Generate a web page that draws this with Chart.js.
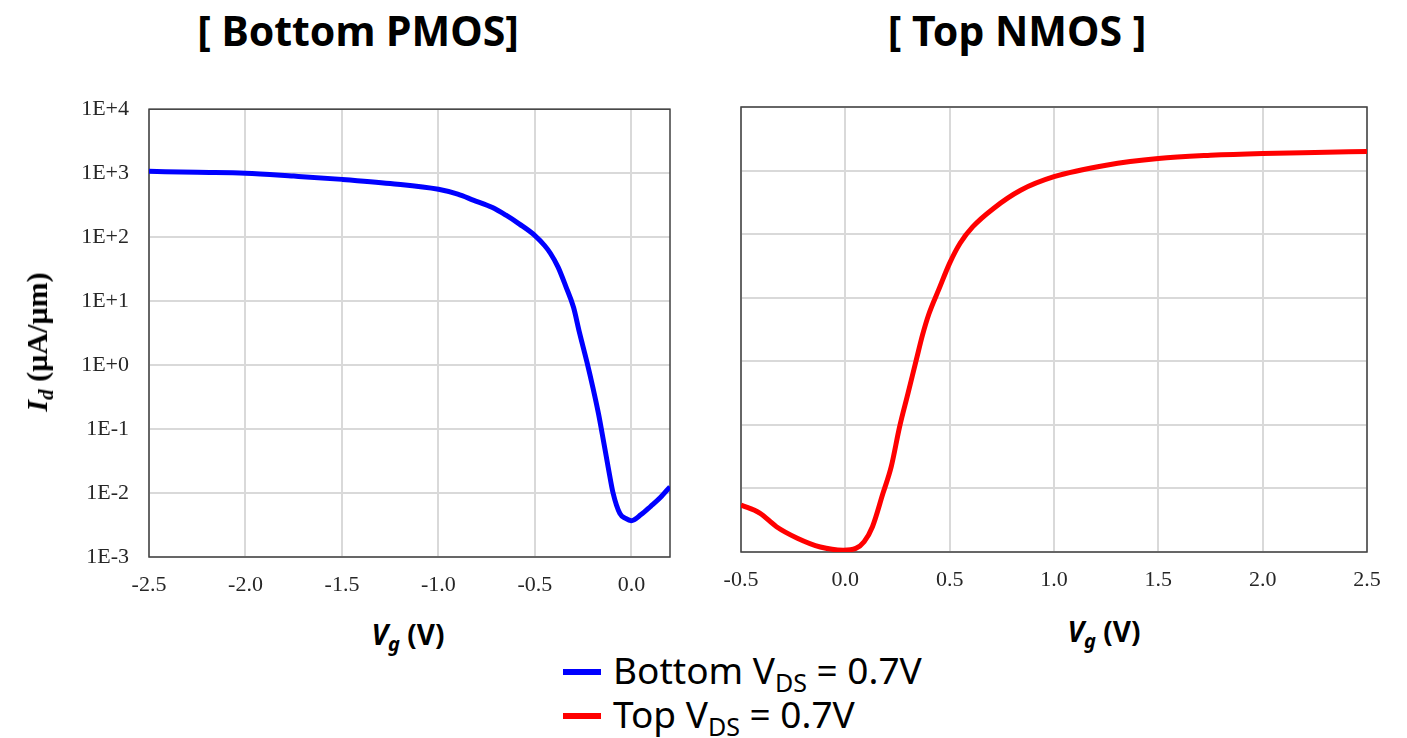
<!DOCTYPE html>
<html>
<head>
<meta charset="utf-8">
<script src="https://cdn.jsdelivr.net/npm/chart.js@4"></script>
<style>
  body { margin: 0; width: 1407px; height: 738px; background: #fff; position: relative; overflow: hidden; font-family: "Noto Sans", sans-serif; color: #000; }
  canvas { position: absolute; }
  sub { line-height: 0; }
  .title { position: absolute; top: 0; font-weight: bold; font-size: 41px; white-space: nowrap; transform: translateX(-50%); line-height: 60px; }
  .xlab { position: absolute; font-weight: bold; font-size: 28px; white-space: nowrap; transform: translateX(-50%); }
  .xlab i, .ylab i { font-style: italic; }
  .xlab sub { font-size: 20px; vertical-align: -6px; }
  .ylab { position: absolute; left: 37px; top: 342px; font-family: "Liberation Serif", serif; font-weight: bold; font-size: 30px; white-space: nowrap; transform: translate(-50%, -50%) rotate(-90deg); }
  .ylab sub { font-size: 21px; vertical-align: -6px; }
  .legend { position: absolute; left: 563px; top: 648px; font-size: 37px; line-height: 44px; }
  .legend div { white-space: nowrap; height: 44px; }
  .legend span.sw { display: inline-block; width: 38px; height: 6px; margin-right: 12px; vertical-align: middle; position: relative; top: -2px; }
  .legend sub { font-size: 25px; vertical-align: -8px; }
</style>
</head>
<body>
<div class="title" style="left:358px">[ Bottom PMOS]</div>
<div class="title" style="left:1017px">[ Top NMOS ]</div>

<canvas id="pmos" width="690" height="531" style="left:0;top:76px"></canvas>
<canvas id="nmos" width="707" height="507" style="left:700px;top:95px"></canvas>

<div class="ylab"><i>I<sub>d</sub></i> (µA/µm)</div>
<div class="xlab" style="left:408px;top:615px"><i>V<sub>g</sub></i> (V)</div>
<div class="xlab" style="left:1104px;top:612px"><i>V<sub>g</sub></i> (V)</div>

<div class="legend">
  <div><span class="sw" style="background:#0000ff"></span>Bottom V<sub>DS</sub> = 0.7V</div>
  <div><span class="sw" style="background:#ff0000"></span>Top V<sub>DS</sub> = 0.7V</div>
</div>

<script>
// bottom PMOS, Vds = 0.7 V
const pmosVg = [-2.5, -2.25, -2.0, -1.75, -1.5, -1.25, -1.0, -0.9, -0.82, -0.72, -0.65, -0.58, -0.5, -0.45, -0.42, -0.38, -0.34,
  -0.3, -0.27, -0.23, -0.2, -0.17, -0.145, -0.12, -0.095, -0.06, -0.03, 0.0, 0.05, 0.1, 0.15, 0.2];
const pmosId = [1070, 1030, 1000, 900, 800, 690, 560, 470, 380, 290, 220, 160, 106, 74, 56, 34, 17,
  8, 3.3, 1.1, 0.45, 0.17, 0.066, 0.025, 0.01, 0.0048, 0.004, 0.0037, 0.0046, 0.0062, 0.0085, 0.0125];
const pmosVgTicks = [-2.5, -2.0, -1.5, -1.0, -0.5, 0.0];

// top NMOS, Vds = 0.7 V
const nmosVg = [-0.5, -0.41, -0.33, -0.23, -0.12, -0.01, 0.05, 0.09, 0.13, 0.18, 0.22, 0.26, 0.3, 0.34, 0.37,
  0.4, 0.45, 0.5, 0.55, 0.61, 0.71, 0.84, 1.0, 1.25, 1.5, 1.75, 2.0, 2.25, 2.5];
const nmosId = [0.0055, 0.0041, 0.0025, 0.00165, 0.0012, 0.00107, 0.00114, 0.00145, 0.0025, 0.0083, 0.022, 0.093, 0.31, 1.05, 2.6,
  5.5, 14, 35, 72, 130, 254, 490, 800, 1215, 1550, 1740, 1860, 1930, 1990];
const nmosVgTicks = [-0.5, 0.0, 0.5, 1.0, 1.5, 2.0, 2.5];

const idTicks = [1e-3, 1e-2, 1e-1, 1e0, 1e1, 1e2, 1e3, 1e4];

const gridColor = '#d9d9d9';
const tickFont = { family: '"Liberation Serif", serif', size: 22 };

const frame = {
  id: 'frame',
  beforeDatasetsDraw(chart) {
    const { ctx, chartArea: a } = chart;
    ctx.save();
    ctx.strokeStyle = '#404040';
    ctx.lineWidth = 1.5;
    ctx.strokeRect(a.left, a.top, a.right - a.left, a.bottom - a.top);
    ctx.restore();
  }
};

function expLabel(v) {
  const e = Math.round(Math.log10(v));
  return '1E' + (e < 0 ? '-' : '+') + Math.abs(e);
}

function drawIdVg({ id, xs, ys, xTicks, color, yWidth, showY, padTop, padRight }) {
  new Chart(document.getElementById(id), {
    type: 'line',
    data: {
      datasets: [{
        data: xs.map((x, i) => ({ x, y: ys[i] })),
        borderColor: color,
        borderWidth: 5,
        pointRadius: 0,
        cubicInterpolationMode: 'monotone',
        fill: false,
      }],
    },
    options: {
      responsive: false,
      animation: false,
      layout: { padding: { top: padTop, right: padRight, left: 0, bottom: 0 } },
      plugins: { legend: { display: false }, tooltip: { enabled: false } },
      scales: {
        x: {
          type: 'linear',
          min: xs[0],
          max: xs[xs.length - 1],
          ticks: {
            color: '#262626',
            font: tickFont,
            padding: 15,
            maxRotation: 0,
            callback: v => v.toFixed(1),
          },
          afterBuildTicks: s => { s.ticks = xTicks.map(value => ({ value })); },
          afterFit: s => { s.height = 50; },
          grid: { color: gridColor, lineWidth: 2, drawTicks: false },
          border: { display: false },
        },
        y: {
          type: 'logarithmic',
          min: 1e-3,
          max: 1e4,
          ticks: {
            display: showY,
            color: '#262626',
            font: tickFont,
            padding: 20,
            callback: expLabel,
          },
          afterBuildTicks: s => { s.ticks = idTicks.map(value => ({ value })); },
          afterFit: s => { s.width = yWidth; },
          grid: { color: gridColor, lineWidth: 2, drawTicks: false },
          border: { display: false },
        },
      },
    },
    plugins: [frame],
  });
}

// top of the left plot area comes from the tick label half-height plus tick padding
drawIdVg({ id: 'pmos', xs: pmosVg, ys: pmosId, xTicks: pmosVgTicks, color: '#0000ff', yWidth: 149, showY: true, padTop: 0, padRight: 20 });
drawIdVg({ id: 'nmos', xs: nmosVg, ys: nmosId, xTicks: nmosVgTicks, color: '#ff0000', yWidth: 41, showY: false, padTop: 12, padRight: 40 });
</script>
</body>
</html>
